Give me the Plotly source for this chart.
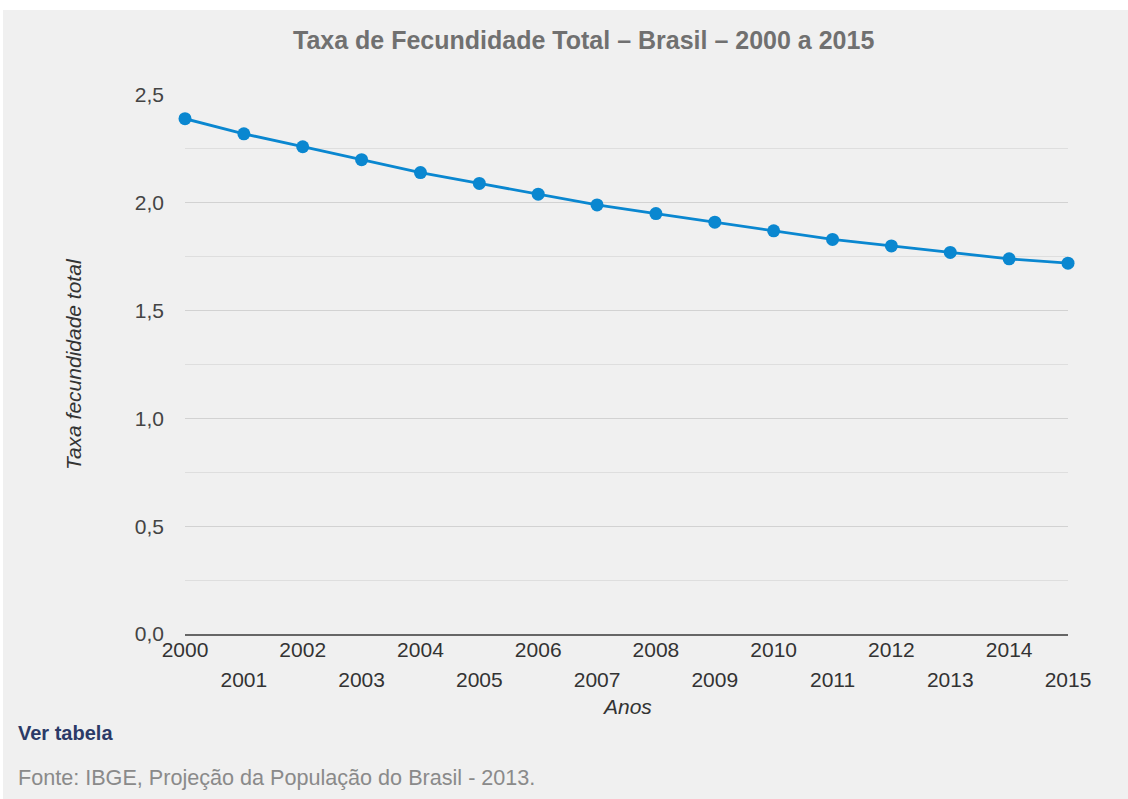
import plotly.graph_objects as go

years = list(range(2000, 2016))
tfr = [2.39, 2.32, 2.26, 2.20, 2.14, 2.09, 2.04, 1.99, 1.95, 1.91, 1.87, 1.83, 1.80, 1.77, 1.74, 1.72]
even_years = [y for y in years if y % 2 == 0]
odd_years = [y for y in years if y % 2 == 1]
y_ticks = [0, 0.5, 1.0, 1.5, 2.0, 2.5]

title_text = "Taxa de Fecundidade Total – Brasil – 2000 a 2015"
y_title = "Taxa fecundidade total"
x_title = "Anos"
link_text = "Ver tabela"
source_text = "Fonte: IBGE, Projeção da População do Brasil - 2013."

W, H = 1128, 799
L, R, T, B = 185, 60, 95, 165
FONT = "Liberation Sans, Arial, sans-serif"
BLUE = "#0a87d0"
BG = "#f0f0f0"

fig = go.Figure()
fig.add_trace(go.Scatter(
    x=years, y=tfr, mode="lines+markers",
    line=dict(color=BLUE, width=2.8),
    marker=dict(color=BLUE, size=13),
    cliponaxis=False, showlegend=False, xaxis="x", yaxis="y",
))
fig.add_trace(go.Scatter(
    x=years, y=tfr, mode="markers", marker=dict(opacity=0),
    hoverinfo="skip", showlegend=False, xaxis="x2", yaxis="y",
))

xr = [years[0], years[-1]]
fig.update_layout(
    width=W, height=H,
    margin=dict(l=L, r=R, t=T, b=B),
    paper_bgcolor="white", plot_bgcolor=BG,
    separators=",.",
    font=dict(family=FONT, size=21, color="#444444"),
    xaxis=dict(
        range=xr, tickvals=even_years, ticktext=[str(y) for y in even_years],
        showgrid=False, zeroline=False, showline=True, linecolor="#666666", linewidth=2,
        ticks="", tickfont=dict(size=21, color="#333333"), ticklabelstandoff=-4,
    ),
    xaxis2=dict(
        range=xr, overlaying="x", anchor="y", side="bottom",
        tickvals=odd_years, ticktext=[str(y) for y in odd_years],
        showgrid=False, zeroline=False, showline=False, ticks="",
        tickfont=dict(size=21, color="#333333"), ticklabelstandoff=31,
    ),
    yaxis=dict(
        range=[0, 2.5], tickvals=y_ticks, tickformat=".1f",
        showgrid=True, gridcolor="#d2d2d2", gridwidth=1, zeroline=False,
        showline=False, ticks="", tickfont=dict(size=21, color="#444444"),
        ticklabelstandoff=20,
        minor=dict(dtick=0.25, showgrid=True, gridcolor="#dedede", gridwidth=1),
    ),
    shapes=[dict(type="rect", xref="paper", yref="paper",
                 x0=-(L - 3) / (W - L - R), x1=1 + R / (W - L - R),
                 y0=-B / (H - T - B), y1=1 + (T - 10) / (H - T - B),
                 fillcolor=BG, line=dict(width=0), layer="below")],
)

def px_x(p):
    return (p - L) / (W - L - R)

def px_y(p):
    return (H - B - p) / (H - T - B)

fig.add_annotation(text="<b>" + title_text + "</b>", xref="paper", yref="paper",
                   x=px_x(583), y=px_y(40), xanchor="center", yanchor="middle",
                   showarrow=False, font=dict(size=25, color="#707070", family=FONT))
fig.add_annotation(text="<i>" + y_title + "</i>", xref="paper", yref="paper",
                   x=px_x(73), y=px_y(364), xanchor="center", yanchor="middle", textangle=-90,
                   showarrow=False, font=dict(size=21, color="#333333", family=FONT))
fig.add_annotation(text="<i>" + x_title + "</i>", xref="paper", yref="paper",
                   x=px_x(627), y=px_y(706), xanchor="center", yanchor="middle",
                   showarrow=False, font=dict(size=21, color="#333333", family=FONT))
fig.add_annotation(text="<b>" + link_text + "</b>", xref="paper", yref="paper",
                   x=px_x(16), y=px_y(733), xanchor="left", yanchor="middle",
                   showarrow=False, font=dict(size=20, color="#2b3a67", family=FONT))
fig.add_annotation(text=source_text, xref="paper", yref="paper",
                   x=px_x(16), y=px_y(777), xanchor="left", yanchor="middle",
                   showarrow=False, font=dict(size=21.6, color="#8a8a8a", family=FONT))

fig.write_html("out.html", config={"displayModeBar": False},
               post_script="document.body.style.margin='0';document.body.style.overflow='hidden';")
